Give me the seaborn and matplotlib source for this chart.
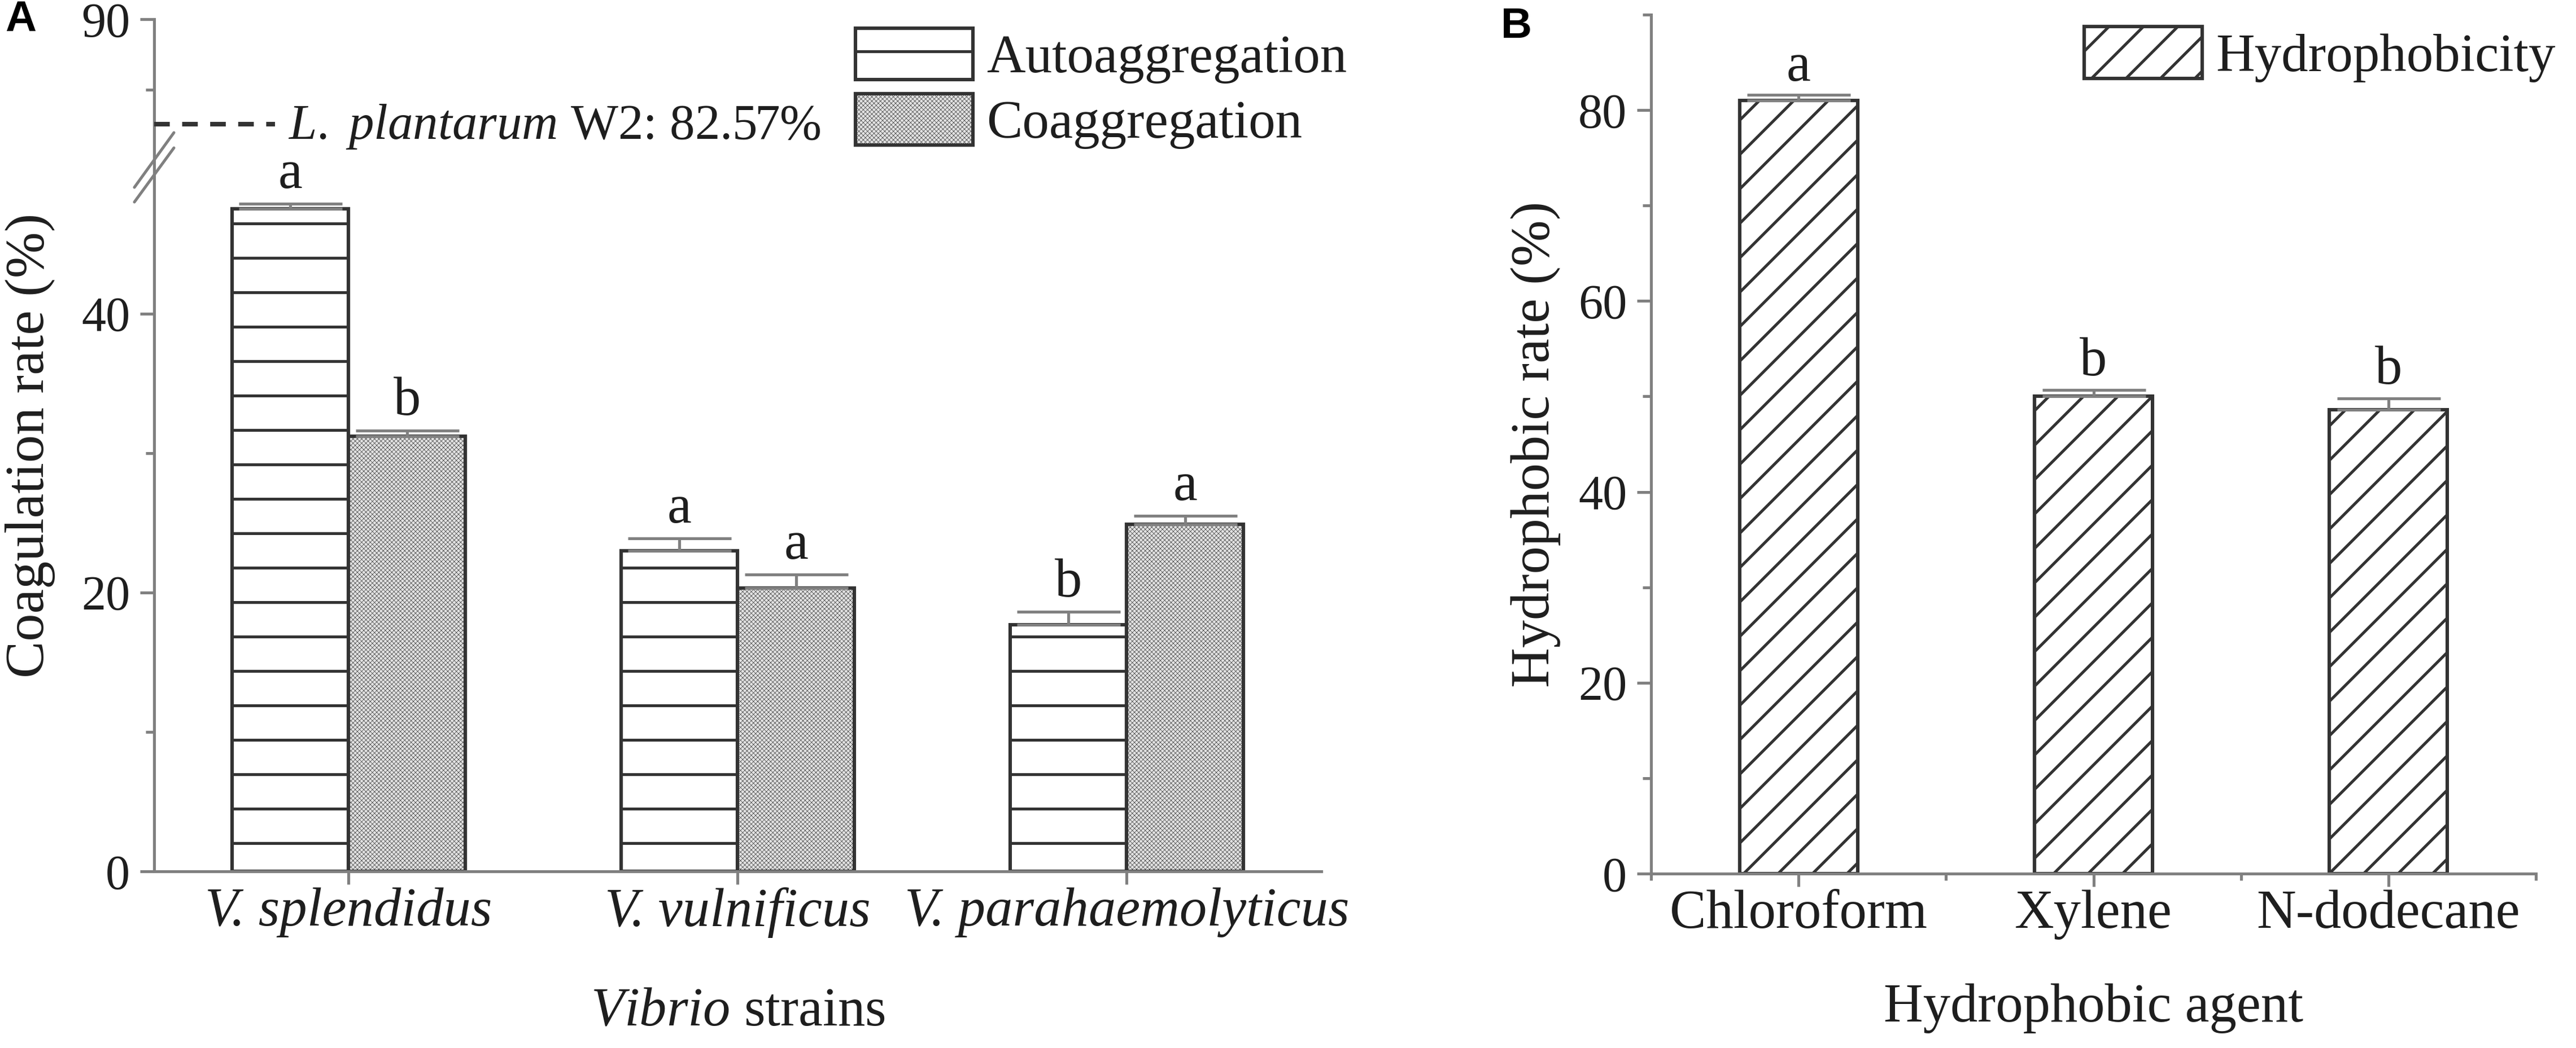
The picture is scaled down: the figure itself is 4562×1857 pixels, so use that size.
import numpy as np
import pandas as pd
import matplotlib
matplotlib.use("Agg")
import matplotlib.pyplot as plt
import seaborn as sns
from matplotlib.patches import Patch
from matplotlib.lines import Line2D

# ---------------- data ----------------
strains = ["V. splendidus", "V. vulnificus", "V. parahaemolyticus"]
series = ["Autoaggregation", "Coaggregation"]
auto_vals = [47.5, 23.0, 17.7]
auto_err = [0.4, 0.9, 0.9]
coag_vals = [31.2, 20.3, 24.9]
coag_err = [0.4, 1.0, 0.6]
auto_letters = ["a", "a", "b"]
coag_letters = ["b", "a", "a"]
reference_value = 82.57
reference_strain = "L. plantarum"
reference_name = "W2"

agents = ["Chloroform", "Xylene", "N-dodecane"]
hydro_label = "Hydrophobicity"
hydro_vals = [81.0, 50.0, 48.6]
hydro_err = [0.6, 0.7, 1.2]
hydro_letters = ["a", "b", "b"]

# ---------------- style ----------------
sns.set_theme(style="white")
plt.rcParams["font.family"] = ["Liberation Serif", "DejaVu Serif"]
plt.rcParams["mathtext.fontset"] = "custom"
plt.rcParams["mathtext.rm"] = "Liberation Serif"
plt.rcParams["mathtext.it"] = "Liberation Serif:italic"
plt.rcParams["hatch.linewidth"] = 1.0
plt.rcParams["axes.unicode_minus"] = False

W, H = 4562, 1857
DPI = 366
EDGE = "#333333"
AXC = "#808080"
TXT = "#1e1e1e"
COAG_FACE = "#e2e2e2"
COAG_HATCH = "x" * 16
COAG_HATCH_LW = 0.13
DIAG_HATCH = "//"

fig = plt.figure(figsize=(W / DPI, H / DPI), dpi=DPI)
fig.patch.set_facecolor("white")

def px_rect(l, t, r, b):
    return [l / W, 1 - b / H, (r - l) / W, (b - t) / H]

axA = fig.add_axes(px_rect(273, 284, 2340, 1544))
axA_top = fig.add_axes(px_rect(273, 34, 2340, 284))
axB = fig.add_axes(px_rect(2924, 26, 4491, 1548))

# ---------------- panel A ----------------
df_a = pd.DataFrame({
    "strain": strains * 2,
    "series": [series[0]] * len(strains) + [series[1]] * len(strains),
    "value": auto_vals + coag_vals,
})
sns.barplot(data=df_a, x="strain", y="value", hue="series", order=strains,
            hue_order=series, width=0.6, dodge=True, errorbar=None,
            legend=False, ax=axA, palette=["white", COAG_FACE],
            saturation=1, edgecolor=EDGE, linewidth=1.2, zorder=2)

hatches_A = ["-", COAG_HATCH]
errs_A = [auto_err, coag_err]
vals_A = [auto_vals, coag_vals]
letters_A = [auto_letters, coag_letters]
for cont, hatch, vals, errs, lets in zip(axA.containers, hatches_A, vals_A, errs_A, letters_A):
    xs = []
    for bar in cont:
        bar.set_hatch(hatch)
        bar.set_edgecolor(EDGE)
        if hatch == COAG_HATCH and hasattr(bar, "set_hatch_linewidth"):
            bar.set_hatch_linewidth(COAG_HATCH_LW)
        xs.append(bar.get_x() + bar.get_width() / 2)
    axA.errorbar(xs, vals, yerr=[np.zeros(len(errs)), errs], fmt="none",
                 ecolor=AXC, elinewidth=1.0, capsize=18, capthick=1.0, zorder=3)
    for x, v, e, l in zip(xs, vals, errs, lets):
        axA.annotate(l, xy=(x, v + e), xytext=(0, 5.5), textcoords="offset points",
                     ha="center", va="baseline", fontsize=19, color=TXT)

axA.set_xlim(-0.5, 2.5)
axA.set_ylim(0, 51)
axA_top.set_xlim(-0.5, 2.5)
axA_top.set_ylim(80, 90)

axA.set_yticks([0, 20, 40])
axA.set_yticks([10, 30], minor=True)
axA_top.set_yticks([90])
axA_top.set_yticks([85], minor=True)
axA_top.set_xticks([])

for ax in (axA, axA_top, axB):
    for s in ("top", "right"):
        ax.spines[s].set_visible(False)
    for s in ("left", "bottom"):
        ax.spines[s].set_color(AXC)
        ax.spines[s].set_linewidth(1.0)
    ax.set_facecolor("none")
    ax.tick_params(axis="y", which="major", direction="out", length=4.9, width=1.0,
                   color=AXC, pad=3.5, labelsize=17, labelcolor=TXT, left=True)
    ax.tick_params(axis="y", which="minor", direction="out", length=3.0, width=1.0,
                   color=AXC, left=True)
    ax.tick_params(axis="x", which="major", direction="out", length=4.6, width=1.0,
                   color=AXC, pad=1.0, labelsize=19, labelcolor=TXT, bottom=True)
    ax.tick_params(axis="x", which="minor", direction="out", length=2.4, width=1.0,
                   color=AXC, bottom=True)
axA_top.spines["bottom"].set_visible(False)
axA_top.tick_params(axis="x", which="both", bottom=False)

axA.set_xticks(range(len(strains)))
axA.set_xticklabels(strains, fontstyle="italic")
axA.set_xlabel(r"$\mathit{Vibrio}$ strains", fontsize=19, color=TXT)
axA.xaxis.set_label_coords(0.5, -0.163)
axA.set_ylabel("Coagulation rate (%)", fontsize=19.3, color=TXT)
axA.yaxis.set_label_coords(-0.0847, 0.599)

# reference line in upper part
line_end = -0.189
axA_top.hlines(reference_value, -0.5, line_end, colors=EDGE, linewidth=1.6,
               linestyles=(0, (3.4, 2.7)), zorder=3)
axA_top.annotate(r"$\mathit{" + reference_strain.replace(" ", r"\ ") + "}$ "
                 + f"{reference_name}: {reference_value}%",
                 xy=(line_end, reference_value), xytext=(4.5, -5.1),
                 textcoords="offset points", ha="left", va="baseline",
                 fontsize=17.5, color=TXT)

# break marks on the y axis
for (x0, y0, x1, y1) in [(238, 332, 308, 235), (238, 358, 308, 262)]:
    fig.add_artist(Line2D([x0 / W, x1 / W], [1 - y0 / H, 1 - y1 / H],
                          transform=fig.transFigure, color=AXC, lw=1.0))

legA_handles = [
    Patch(facecolor="white", edgecolor=EDGE, hatch="-", linewidth=1.2),
    Patch(facecolor=COAG_FACE, edgecolor=EDGE, hatch=COAG_HATCH, linewidth=1.2),
]
legA = fig.legend(handles=legA_handles, labels=series, loc="upper left",
                  bbox_to_anchor=(1515 / W, 1 - 50 / H), frameon=False,
                  fontsize=18.7, handlelength=2.19, handleheight=1.1,
                  handletextpad=0.25, labelspacing=0.19, borderpad=0,
                  borderaxespad=0)
for t in legA.get_texts():
    t.set_color(TXT)
if hasattr(legA.legend_handles[1], "set_hatch_linewidth"):
    legA.legend_handles[1].set_hatch_linewidth(COAG_HATCH_LW)

# ---------------- panel B ----------------
df_b = pd.DataFrame({"agent": agents, "value": hydro_vals})
sns.barplot(data=df_b, x="agent", y="value", order=agents, width=0.4,
            errorbar=None, ax=axB, color="white", saturation=1,
            edgecolor=EDGE, linewidth=1.2, zorder=2)
xsB = []
for bar in axB.containers[0]:
    bar.set_hatch(DIAG_HATCH)
    bar.set_facecolor("white")
    bar.set_edgecolor(EDGE)
    xsB.append(bar.get_x() + bar.get_width() / 2)
axB.errorbar(xsB, hydro_vals, yerr=[np.zeros(len(hydro_err)), hydro_err], fmt="none",
             ecolor=AXC, elinewidth=1.0, capsize=18, capthick=1.0, zorder=3)
for x, v, e, l in zip(xsB, hydro_vals, hydro_err, hydro_letters):
    axB.annotate(l, xy=(x, v + e), xytext=(0, 5.0), textcoords="offset points",
                 ha="center", va="baseline", fontsize=19, color=TXT)

axB.set_xlim(-0.5, 2.5)
axB.set_ylim(0, 90)
axB.set_yticks([0, 20, 40, 60, 80])
axB.set_yticks([10, 30, 50, 70, 90], minor=True)
axB.set_xticks(range(len(agents)))
axB.set_xticks([-0.5, 0.5, 1.5, 2.5], minor=True)
axB.set_xticklabels(agents)
axB.set_xlabel("Hydrophobic agent", fontsize=19, color=TXT)
axB.xaxis.set_label_coords(0.5, -0.128)
axB.set_ylabel("Hydrophobic rate (%)", fontsize=19.3, color=TXT)
axB.yaxis.set_label_coords(-0.102, 0.5)

legB = fig.legend(handles=[Patch(facecolor="white", edgecolor=EDGE, hatch=DIAG_HATCH, linewidth=1.2)],
                  labels=[hydro_label], loc="upper left",
                  bbox_to_anchor=(3691 / W, 1 - 47 / H), frameon=False,
                  fontsize=18.7, handlelength=2.2, handleheight=1.12,
                  handletextpad=0.25, borderpad=0, borderaxespad=0)
for t in legB.get_texts():
    t.set_color(TXT)

# panel letters
fig.text(9 / W, 1 - 0 / H, "A", fontsize=15, fontweight="bold",
         family=["Liberation Sans", "DejaVu Sans"], va="top", ha="left", color="black")
fig.text(2658 / W, 1 - 12 / H, "B", fontsize=15, fontweight="bold",
         family=["Liberation Sans", "DejaVu Sans"], va="top", ha="left", color="black")

fig.savefig("out.png", dpi=DPI, facecolor="white")
